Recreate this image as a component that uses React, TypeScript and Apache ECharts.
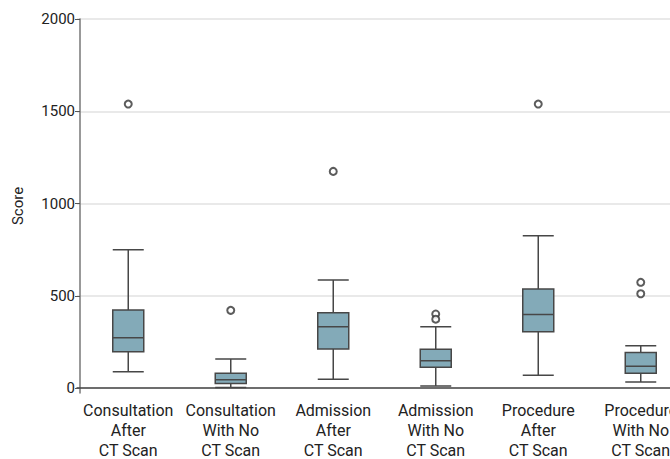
import React, { useEffect, useRef } from "react";
import * as echarts from "echarts";

const categories = [
  "Consultation\nAfter\nCT Scan",
  "Consultation\nWith No\nCT Scan",
  "Admission\nAfter\nCT Scan",
  "Admission\nWith No\nCT Scan",
  "Procedure\nAfter\nCT Scan",
  "Procedure\nWith No\nCT Scan",
];

// [lower whisker, Q1, median, Q3, upper whisker]
const boxValues = [
  [88, 197, 273, 423, 750],
  [3, 25, 45, 80, 157],
  [47, 211, 332, 408, 585],
  [11, 112, 148, 210, 332],
  [69, 305, 399, 537, 825],
  [33, 80, 118, 193, 229],
];

// [category index, value]
const outliers = [
  [0, 1539],
  [1, 421],
  [2, 1174],
  [3, 401],
  [3, 373],
  [4, 1539],
  [5, 573],
  [5, 511],
];

const yTicks = [0, 500, 1000, 1500, 2000];

export default function App() {
  const ref = useRef<HTMLDivElement>(null);
  useEffect(() => {
    if (!ref.current) return;
    const chart = echarts.init(ref.current, undefined, { renderer: "svg" });
    chart.setOption({
      animation: false,
      backgroundColor: "#ffffff",
      textStyle: { fontFamily: "Roboto" },
      grid: {
        left: 77,
        top: 19,
        width: 615,
        bottom: 66,
        containLabel: false,
        outerBoundsMode: "none",
      },
      xAxis: {
        type: "category",
        data: categories,
        boundaryGap: true,
        axisLine: { lineStyle: { color: "#444", width: 1.5 } },
        axisTick: { show: false },
        splitLine: { show: false },
        axisLabel: {
          color: "#222",
          fontSize: 16,
          lineHeight: 20,
          margin: 7,
          interval: 0,
          hideOverlap: false,
          fontFamily: "Roboto",
        },
      },
      yAxis: {
        type: "value",
        min: -27,
        max: 2000,
        offset: -3,
        name: "Score",
        nameLocation: "middle",
        nameGap: 55,
        nameTextStyle: { color: "#222", fontSize: 15, fontFamily: "Roboto" },
        axisLine: { show: true, lineStyle: { color: "#777", width: 1.5 } },
        axisTick: {
          show: true,
          length: 5,
          customValues: yTicks,
          lineStyle: { color: "#555" },
        },
        axisLabel: {
          customValues: yTicks,
          color: "#222",
          fontSize: 15,
          margin: 5,
          fontFamily: "Roboto",
          formatter: (v: number) => String(v),
        },
        splitLine: { show: true, lineStyle: { color: "#e2e2e2", width: 1.5 } },
      },
      series: [
        {
          type: "boxplot",
          data: boxValues,
          boxWidth: [31, 31],
          itemStyle: {
            color: "#83aab8",
            borderColor: "#474747",
            borderWidth: 1.5,
          },
        },
        {
          type: "scatter",
          data: outliers,
          symbol: "emptyCircle",
          symbolSize: 7,
          itemStyle: { color: "#333", borderColor: "#333", borderWidth: 1 },
        },
      ],
    });
    return () => chart.dispose();
  }, []);
  return (
    <div
      ref={ref}
      style={{ position: "fixed", left: 0, top: 0, width: 670, height: 459 }}
    />
  );
}
